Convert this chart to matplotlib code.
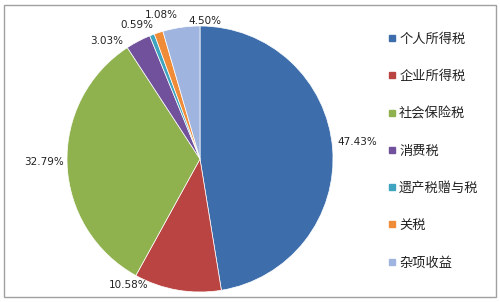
import numpy as np
import matplotlib.pyplot as plt
from matplotlib.patches import Rectangle
from matplotlib.lines import Line2D

plt.rcParams['font.family'] = ['Noto Sans CJK SC', 'DejaVu Sans']

categories = ['个人所得税', '企业所得税', '社会保险税', '消费税', '遗产税赠与税', '关税', '杂项收益']
shares = [47.43, 10.58, 32.79, 3.03, 0.59, 1.08, 4.50]
colors = ['#3D6EAB', '#BA4442', '#8FB24F', '#72519C', '#3FA4C0', '#F08C37', '#9FB4DE']

# label placement (angle offset in degrees, radius) per slice
label_shift = [1.5, -19.5, -1.0, 10.5, 4.0, -3.0, -10.0]
label_rad = [1.19, 1.09, 1.17, 1.13, 1.11, 1.12, 1.04]

fig = plt.figure(figsize=(5, 3.02), dpi=100)
fig.patches.append(Rectangle((4 / 500, 5 / 302), 492 / 500, 292 / 302, transform=fig.transFigure,
                             fill=False, edgecolor='#A0A0A0', linewidth=1.0))

ax = fig.add_axes([(200 - 133) / 500, (302 - 159 - 133) / 302, 266 / 500, 266 / 302])
wedges, _ = ax.pie(shares, colors=colors, startangle=90, counterclock=False, radius=1,
                   wedgeprops=dict(edgecolor='white', linewidth=0.5))
ax.set_xlim(-1, 1)
ax.set_ylim(-1, 1)
ax.set_aspect('equal')

for w, v, da, r in zip(wedges, shares, label_shift, label_rad):
    mid = np.deg2rad((w.theta1 + w.theta2) / 2 + da)
    x, y = r * np.cos(mid), r * np.sin(mid)
    ax.text(x, y, f'{v:.2f}%', ha='center', va='center', fontsize=7.5, color='#222222',
            family='DejaVu Sans', clip_on=False)

handles = [Line2D([], [], marker='s', linestyle='none', markersize=5, markerfacecolor=c,
                  markeredgecolor=c) for c in colors]
fig.legend(handles, categories, loc='upper left', bbox_to_anchor=(380 / 500, 1 - 26 / 302),
           frameon=False, fontsize=9.5, labelspacing=1.84, handletextpad=0.15, handlelength=0.8,
           borderpad=0, labelcolor='#222222')

fig.savefig('out.png', dpi=100)
